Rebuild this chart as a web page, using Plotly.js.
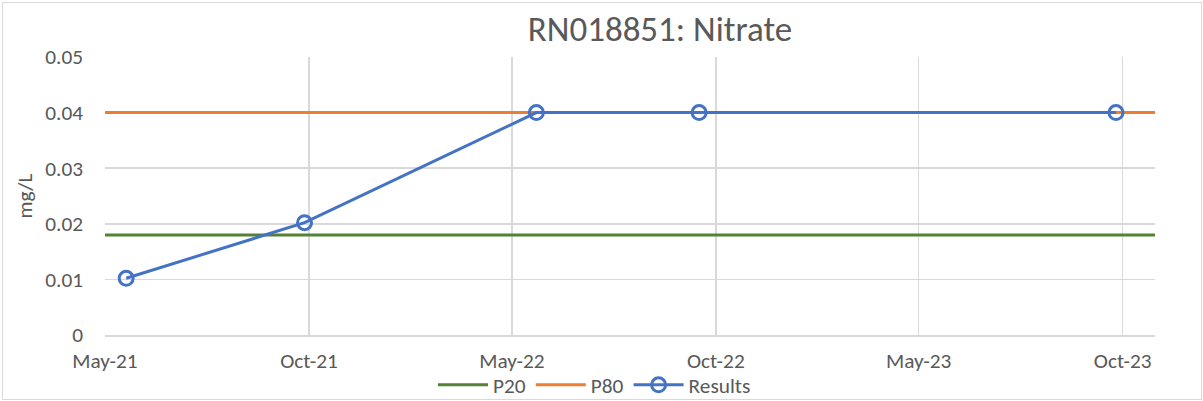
<!DOCTYPE html>
<html><head><meta charset="utf-8">
<script src="https://cdn.plot.ly/plotly-3.0.1.min.js"></script>
<style>
html,body{margin:0;padding:0;background:#fff;}
#chart{width:1203px;height:401px;}
#frame{position:absolute;left:2px;top:2px;width:1198px;height:396px;border:1px solid #D9D9D9;pointer-events:none;}
</style></head>
<body>
<div id="chart"></div>
<div id="frame"></div>
<script>
// Data
const resultDates = ["2021-05-20","2021-10-27","2022-05-23","2022-10-16","2023-10-25"];
const resultValues = [0.0102, 0.0202, 0.04, 0.04, 0.04];
const p20Dates = ["2021-05-01","2023-11-29"];
const p20Values = [0.018, 0.018];
const p80Dates = ["2021-05-01","2023-11-29"];
const p80Values = [0.04, 0.04];
const xTickVals = ["2021-05-01","2021-10-31","2022-05-01","2022-10-31","2023-05-01","2023-10-31"];
const xTickText = ["May-21","Oct-21","May-22","Oct-22","May-23","Oct-23"];
const yTickVals = [0, 0.01, 0.02, 0.03, 0.04, 0.05];
const yTickText = ["0","0.01","0.02","0.03","0.04","0.05"];
const xRange = ["2021-05-01","2023-11-29"];
const yRange = [0, 0.05];

const FONT = "Carlito, Calibri, 'Liberation Sans', Arial, sans-serif";
const TXT = "#595959";
const FS = 21.3;

const traces = [
  {x: p20Dates, y: p20Values, name: "P20", mode: "lines", type: "scatter",
   line: {color: "#548235", width: 3}},
  {x: p80Dates, y: p80Values, name: "P80", mode: "lines", type: "scatter",
   line: {color: "#ED7D31", width: 3}},
  {x: resultDates, y: resultValues, name: "Results", mode: "lines+markers", type: "scatter",
   line: {color: "#4472C4", width: 3},
   marker: {symbol: "circle-open", size: 14, color: "#4472C4", line: {width: 3, color: "#4472C4"}}}
];

const layout = {
  width: 1203, height: 401,
  margin: {l: 105, r: 48, t: 57, b: 66},
  paper_bgcolor: "#fff", plot_bgcolor: "#fff",
  font: {family: FONT, color: TXT, size: FS},
  title: {text: "RN018851: Nitrate", font: {family: FONT, size: 35, color: TXT},
          xref: "container", x: 660/1203, xanchor: "center",
          yref: "container", y: 1 - 29/401, yanchor: "middle"},
  xaxis: {type: "date", range: xRange, tickvals: xTickVals, ticktext: xTickText,
          showgrid: true, gridcolor: "#D9D9D9", gridwidth: 1.5,
          showline: true, linecolor: "#D9D9D9", linewidth: 1.5,
          zeroline: false, ticks: "", ticklabelstandoff: 6,
          tickfont: {family: FONT, size: FS, color: TXT}, fixedrange: true},
  yaxis: {range: yRange, tickvals: yTickVals, ticktext: yTickText,
          showgrid: true, gridcolor: "#D9D9D9", gridwidth: 1.5,
          zeroline: false, showline: false, ticks: "", ticklabelstandoff: 21,
          title: {text: "mg/L", font: {family: FONT, size: FS, color: TXT}, standoff: 6},
          tickfont: {family: FONT, size: FS, color: TXT}, fixedrange: true},
  showlegend: true,
  legend: {orientation: "h", xref: "container", x: 433/1203, xanchor: "left",
           yref: "container", y: 1 - 385/401, yanchor: "middle",
           font: {family: FONT, size: FS, color: TXT}, itemwidth: 50,
           traceorder: "normal", bgcolor: "rgba(0,0,0,0)"}
};

Plotly.newPlot("chart", traces, layout, {displayModeBar: false, staticPlot: true});
</script>
</body></html>
